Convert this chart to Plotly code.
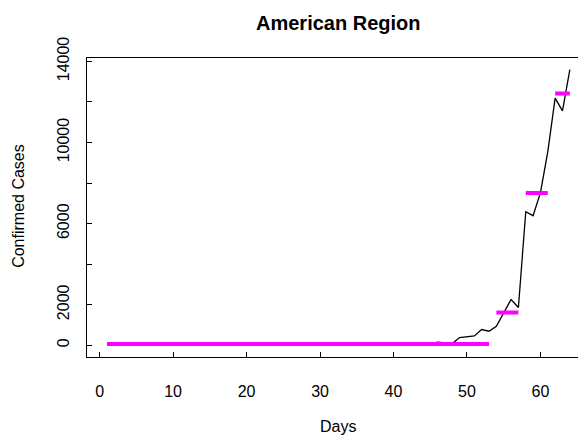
import plotly.graph_objects as go

# Data
days = list(range(1, 65))
confirmed = [
    1, 1, 2, 2, 3, 3, 4, 5, 5, 5,
    6, 6, 7, 7, 8, 8, 8, 9, 9, 10,
    10, 11, 11, 12, 12, 13, 13, 14, 14, 15,
    15, 20, 30, 45, 25, 18, 18, 20, 22, 22,
    25, 28, 30, 40, 60, 150, 120, 84, 380, 410,
    460, 776, 692, 939, 1565, 2256, 1861, 6589, 6391, 7526,
    9554, 12190, 11563, 13590,
]

# Magenta horizontal segments (start day, end day, level)
seg_start = [1, 54, 58, 62]
seg_end = [53, 57, 61, 64]
seg_level = [64, 1616, 7511, 12418]

y_tickvals = [0, 2000, 4000, 6000, 8000, 10000, 12000, 14000]
y_ticktext = ["0", "2000", "", "6000", "", "10000", "", "14000"]
x_tickvals = [0, 10, 20, 30, 40, 50, 60]

# The page body adds an 8px offset; build the figure 8px smaller and shifted.
OFF = 8
W, H = 586 - OFF, 441 - OFF
l, r, t, b = 86.7 - OFF, 0, 58.3 - OFF, 441 - 356.7
pw, ph = W - l - r, H - t - b


def px(x):
    return (x - OFF - l) / pw


def py(y):
    return (H - b - (y - OFF)) / ph


fig = go.Figure()
fig.add_trace(go.Scatter(x=days, y=confirmed, mode="lines",
                         line=dict(color="black", width=1.3),
                         hoverinfo="skip", showlegend=False))
for a, c, v in zip(seg_start, seg_end, seg_level):
    fig.add_trace(go.Scatter(x=[a, c], y=[v, v], mode="lines",
                             line=dict(color="#FF00FF", width=4),
                             hoverinfo="skip", showlegend=False))

font_family = "Liberation Sans, Arial, Helvetica, sans-serif"

fig.update_layout(
    width=W, height=H,
    margin=dict(l=l, r=r, t=t, b=b, pad=0, autoexpand=False),
    paper_bgcolor="white", plot_bgcolor="white",
    font=dict(family=font_family, size=16, color="black"),
    xaxis=dict(
        range=[-1.72, 66.2], tickvals=x_tickvals, automargin=False,
        ticks="inside", ticklen=5, tickwidth=1, tickcolor="black",
        showline=True, linecolor="black", linewidth=1.3, mirror=True,
        showgrid=False, zeroline=False, ticklabelstandoff=20,
        tickfont=dict(size=16),
    ),
    yaxis=dict(
        range=[-578, 14168], tickvals=y_tickvals, ticktext=y_ticktext,
        tickangle=-90, automargin=False,
        ticks="inside", ticklen=5, tickwidth=1, tickcolor="black",
        showline=True, linecolor="black", linewidth=1.3, mirror=True,
        showgrid=False, zeroline=False, ticklabelstandoff=10,
        tickfont=dict(size=16),
    ),
    annotations=[
        dict(text="<b>American Region</b>", x=px(337.5), y=py(23),
             xref="paper", yref="paper", xanchor="center", yanchor="middle",
             showarrow=False, font=dict(size=20)),
        dict(text="Days", x=px(337.5), y=py(426),
             xref="paper", yref="paper", xanchor="center", yanchor="middle",
             showarrow=False, font=dict(size=16)),
        dict(text="Confirmed Cases", x=px(18.5), y=py(206),
             xref="paper", yref="paper", xanchor="center", yanchor="middle",
             showarrow=False, font=dict(size=16), textangle=-90),
    ],
)

fig.write_html("out.html")
